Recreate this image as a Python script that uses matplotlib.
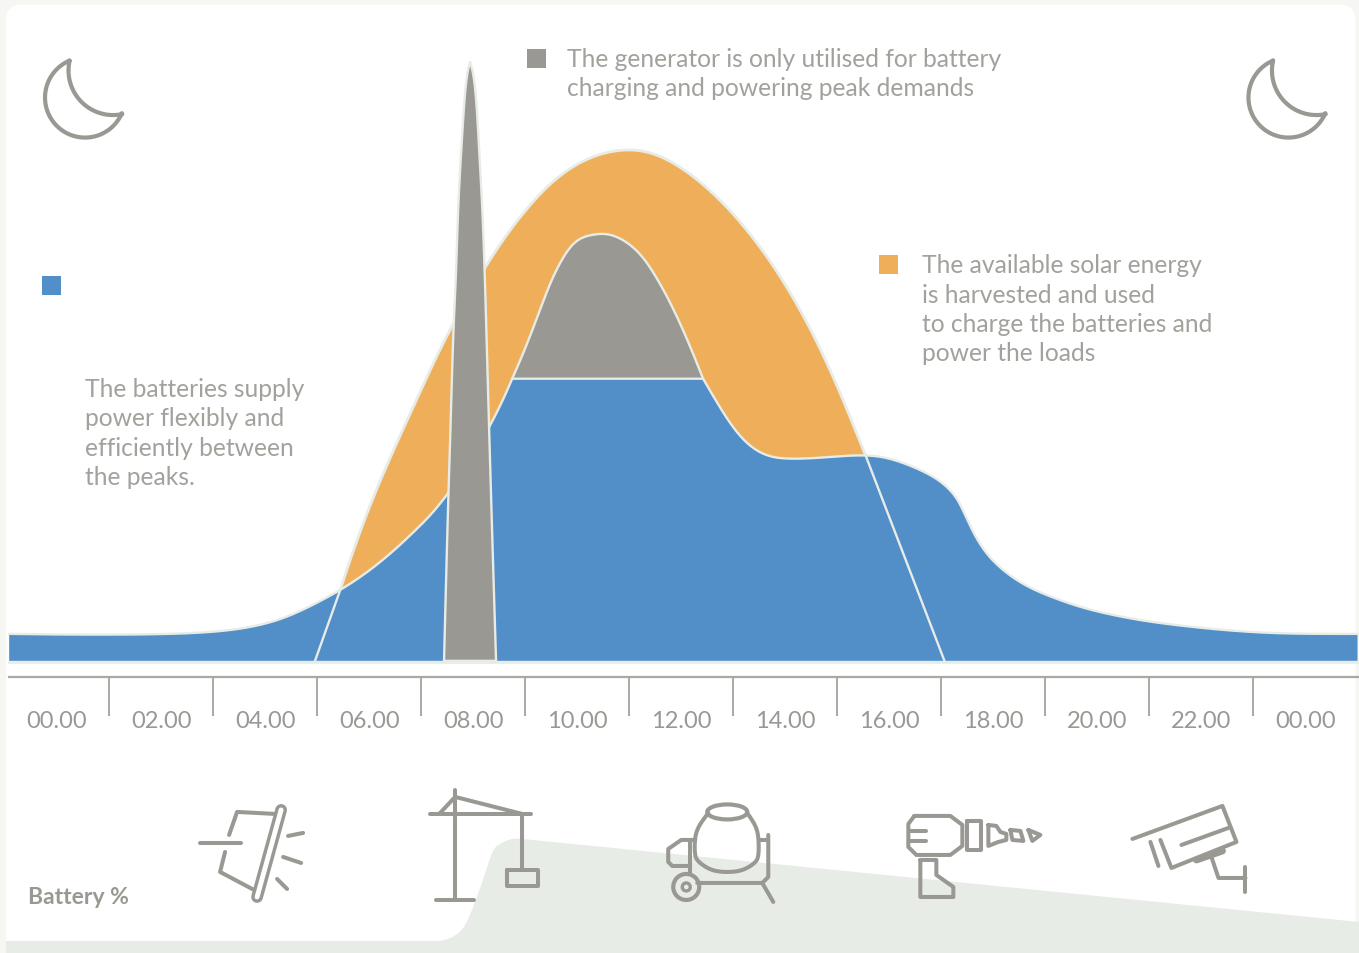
import numpy as np
import matplotlib
matplotlib.use('Agg')
import matplotlib.pyplot as plt
from matplotlib.patches import FancyBboxPatch, Polygon, Rectangle, Circle, Ellipse

W, H = 1359, 953

# values: hours of the day and battery %
batt_rise_h = [0.08, 1.83, 3.37, 4.33, 5.10, 5.67, 6.44, 6.96, 7.60, 8.08, 8.52, 9.33, 9.75]
batt_rise_v = [4.5, 4.3, 4.5, 5.0, 6.3, 8.2, 11.7, 14.7, 19.2, 23.5, 27.5, 38.7, 47.0]
batt_fall_h = [13.42, 13.69, 14.00, 14.33, 14.65, 14.96, 15.42, 15.92, 16.54, 17.02, 17.46, 17.85, 18.17,
               18.37, 18.56, 18.81, 19.13, 19.58, 20.10, 20.73, 21.38, 22.02, 22.98, 23.94, 24.90, 26.0]
batt_fall_v = [47.0, 43.0, 38.8, 35.7, 34.2, 33.7, 33.7, 34.0, 34.3, 33.7, 32.3, 30.7, 28.5,
               26.0, 22.3, 18.5, 15.5, 12.7, 10.7, 8.8, 7.5, 6.5, 5.5, 4.8, 4.5, 4.5]

solar_h = [6.44, 6.63, 6.88, 7.21, 7.60, 8.17, 8.62, 9.23, 9.58, 10.10, 10.62, 11.12, 11.58, 12.02,
           12.46, 12.92, 13.37, 13.81, 14.27, 14.65, 15.04, 15.42, 15.81, 16.19, 16.54]
solar_v = [11.7, 16.8, 22.8, 30.2, 37.5, 48.5, 56.5, 65.7, 70.2, 76.3, 80.7, 83.5, 84.8, 85.3,
           84.7, 82.7, 79.8, 76.3, 71.8, 67.3, 62.3, 56.3, 49.7, 41.8, 34.3]

dome_h = [9.75, 10.10, 10.42, 10.67, 10.92, 11.19, 11.48, 11.77, 12.15, 12.46, 12.79, 13.12, 13.42]
dome_v = [47.0, 54.0, 61.8, 66.3, 69.7, 70.8, 71.2, 70.7, 68.5, 64.8, 59.7, 53.5, 47.0]

gen_left_h = [8.44, 8.52, 8.56, 8.62, 8.67, 8.71, 8.79, 8.85, 8.94]
gen_left_v = [0, 27.3, 36.8, 56.5, 63.0, 76.8, 87.0, 96.5, 99.7]
gen_right_h = [8.94, 9.04, 9.10, 9.17, 9.23, 9.31, 9.44]
gen_right_v = [99.7, 96.5, 87.0, 76.8, 63.0, 36.8, 0]

solar_in_h = [5.96, 6.44]
solar_in_v = [0, 11.7]
solar_out_h = [16.54, 18.06]
solar_out_v = [34.3, 0]

tick_hours = list(range(2, 26, 2))
label_hours = list(range(1, 27, 2))
tick_labels = ['00.00', '02.00', '04.00', '06.00', '08.00', '10.00', '12.00', '14.00',
               '16.00', '18.00', '20.00', '22.00', '00.00']

BLUE = '#528FC9'
ORANGE = '#EFAF5A'
GREY = '#9A9893'
EDGE = '#E8ECE6'
PAGE = '#F6F7F2'
FONT = 'Lato'


def smooth(x, y, n=16, soften=0):
    # catmull-rom through the read points, only so the outline is not jagged
    p = np.column_stack([x, y])
    p = np.vstack([p[0], p, p[-1]])
    out = []
    for i in range(1, len(p) - 2):
        t = np.linspace(0, 1, n, endpoint=False)[:, None]
        out.append(0.5 * (2 * p[i] + (p[i + 1] - p[i - 1]) * t
                          + (2 * p[i - 1] - 5 * p[i] + 4 * p[i + 1] - p[i + 2]) * t ** 2
                          + (3 * p[i] - p[i - 1] - 3 * p[i + 1] + p[i + 2]) * t ** 3))
    out.append(p[-2:-1])
    c = np.vstack(out)
    if soften:
        # moving average to take out the reading noise, ends stay where they are
        k = soften
        pad = np.vstack([2 * c[0] - c[k:0:-1], c, 2 * c[-1] - c[-2:-k - 2:-1]])
        kernel = np.ones(2 * k + 1) / (2 * k + 1)
        c = np.column_stack([np.convolve(pad[:, j], kernel, mode='valid') for j in range(2)])
    return c


fig = plt.figure(figsize=((W + 0.5) / 100, (H + 0.5) / 100), dpi=100, facecolor=PAGE)

# pixel layer for the card, the ground and the icons
bg = fig.add_axes([0, 0, 1, 1], zorder=0)
bg.set_xlim(0, W)
bg.set_ylim(H, 0)
bg.axis('off')
bg.add_patch(FancyBboxPatch((6 + 16, 5 + 16), 1349 - 32, 980, boxstyle='round,pad=16,rounding_size=16',
                            fc='white', ec='none'))
ground_top = smooth([440, 454, 466, 480, 492, 500, 512, 522], [941, 936, 923, 888, 853, 844, 839, 839], 8)
ground = np.vstack([[[6, 953], [6, 941]], ground_top, [[1359, 922], [1359, 953]]])
bg.add_patch(Polygon(ground, closed=True, fc=EDGE, ec='none'))

# chart layer, hours on x and battery % on y
ax = fig.add_axes([0, 0, 1, 1], zorder=1)
ax.set_xlim(-5 / 52, (W - 5) / 52)
ax.set_ylim((661 - H) / 6, 661 / 6)
ax.axis('off')
ax.patch.set_alpha(0)

rise = smooth(batt_rise_h, batt_rise_v, soften=14)
fall = smooth(batt_fall_h, batt_fall_v, soften=10)
blue_top = np.vstack([rise, fall])
blue = np.vstack([[[batt_rise_h[0], 0]], blue_top, [[batt_fall_h[-1], 0]]])
solar = smooth(solar_h, solar_v, soften=16)
dome = smooth(dome_h, dome_v, soften=12)
gen = np.vstack([smooth(gen_left_h, gen_left_v, soften=12), smooth(gen_right_h, gen_right_v, soften=12)])

ax.add_patch(Polygon(solar, closed=True, fc=ORANGE, ec='none', zorder=2))
ax.plot(solar[:, 0], solar[:, 1], color=EDGE, lw=2.0, zorder=3)
ax.add_patch(Polygon(blue, closed=True, fc=BLUE, ec='none', zorder=4))
ax.add_patch(Polygon(dome, closed=True, fc=GREY, ec='none', zorder=4))
ax.plot(blue_top[:, 0], blue_top[:, 1], color=EDGE, lw=1.7, zorder=5)
ax.plot(dome[:, 0], dome[:, 1], color=EDGE, lw=1.7, zorder=5)
ax.plot(solar_in_h, solar_in_v, color=EDGE, lw=1.7, zorder=5)
ax.plot(solar_out_h, solar_out_v, color=EDGE, lw=1.7, zorder=5)
ax.add_patch(Polygon(gen, closed=True, fc=GREY, ec=EDGE, lw=1.7, zorder=6))
ax.plot([batt_rise_h[0], batt_fall_h[-1]], [-0.2, -0.2], color=EDGE, lw=2, zorder=7)

# time scale
tax = fig.add_axes([5 / W, 1 - 677 / H, (W - 5) / W, 0.001], zorder=2)
tax.set_xlim(0, (W - 5) / 52)
tax.patch.set_alpha(0)
tax.set_yticks([])
for s in ['top', 'left', 'right']:
    tax.spines[s].set_visible(False)
tax.spines['bottom'].set_color('#A9A8A3')
tax.spines['bottom'].set_linewidth(1.6)
tax.spines['bottom'].set_bounds(4 / 52, (W - 5) / 52)
tax.set_xticks(tick_hours)
tax.set_xticklabels([])
tax.tick_params(axis='x', which='major', length=28, width=1.4, color='#A9A8A3')
tax.set_xticks(label_hours, minor=True)
tax.set_xticklabels(tick_labels, minor=True, fontsize=17.0, color=GREY, family=FONT)
tax.tick_params(axis='x', which='minor', length=0, pad=24)

# text and legend squares
notes = [(567, [59, 88], ['The generator is only utilised for battery', 'charging and powering peak demands']),
         (922, [265, 295, 324, 353], ['The available solar energy', 'is harvested and used',
                                      'to charge the batteries and', 'power the loads']),
         (85, [389, 418, 448, 477], ['The batteries supply', 'power flexibly and',
                                     'efficiently between', 'the peaks.'])]
for x, ys, lines in notes:
    for y, line in zip(ys, lines):
        bg.text(x, y, line, fontsize=17.75, color='#A3A19C', family=FONT, va='center', ha='left')
bg.text(28, 897, 'Battery %', fontsize=16.5, color=GREY, family=FONT, weight='bold', va='center', ha='left')
bg.add_patch(Rectangle((42, 276), 19, 19, fc=BLUE, ec='none'))
bg.add_patch(Rectangle((527, 49), 19, 19, fc=GREY, ec='none'))
bg.add_patch(Rectangle((879, 255), 19, 19, fc=ORANGE, ec='none'))


def stroke(pts, closed=False, lw=2.9, color=GREY):
    pts = np.array(pts, dtype=float)
    if closed:
        pts = np.vstack([pts, pts[:1]])
    bg.plot(pts[:, 0], pts[:, 1], color=color, lw=lw, solid_capstyle='round',
            solid_joinstyle='round', zorder=8)


# moons
for dx in [0, 1203]:
    a1 = np.radians(np.linspace(247, 23, 60))
    a2 = np.radians(np.linspace(78, 193, 40))
    outer = np.column_stack([85 + dx + 40 * np.cos(a1), 98 + 40 * np.sin(a1)])
    inner = np.column_stack([113 + dx + 44.5 * np.cos(a2), 71 + 44.5 * np.sin(a2)])
    stroke(np.vstack([outer, inner]), closed=True, lw=3.0)

# floodlight
stroke([(281, 810), (257, 897)], lw=8.5)
stroke([(281, 810), (257, 897)], lw=3.5, color='white')
stroke([(229, 835), (237, 812), (275, 814)])
stroke([(200, 843), (241, 843)])
stroke([(225, 852), (220, 872), (254, 890)])
stroke([(288, 836), (303, 833)])
stroke([(283, 857), (301, 863)])
stroke([(277, 879), (287, 889)])

# crane
stroke([(455, 790), (455, 900)])
stroke([(436, 900), (474, 900)])
stroke([(430, 814), (531, 814)])
stroke([(439, 814), (455, 797), (522, 814)])
stroke([(522, 814), (522, 870)])
stroke([(507, 870), (538, 870), (538, 886), (507, 886)], closed=True)

# mixer
bg.add_patch(Ellipse((727, 812), 40, 15, fc='none', ec=GREY, lw=3.0, zorder=8))
stroke(smooth([708, 699, 695, 695, 700, 712, 727, 742, 754, 758, 758, 755, 747],
              [813, 826, 838, 855, 863, 870, 872, 870, 863, 855, 838, 826, 813], 6))
stroke([(760, 840), (768, 840)])
stroke([(768, 835), (768, 877), (762, 883), (697, 883)])
stroke([(762, 883), (773, 902)])
stroke([(695, 840), (681, 840), (668, 849), (668, 862), (672, 866), (690, 866)])
stroke([(690, 840), (690, 874)])
bg.add_patch(Circle((686, 887), 13, fc='none', ec=GREY, lw=3.0, zorder=8))
bg.add_patch(Circle((686, 887), 4, fc='none', ec=GREY, lw=2.4, zorder=8))

# drill
stroke([(914, 816), (950, 816), (962, 825), (962, 846), (950, 855), (916, 855), (908, 847), (908, 824)], closed=True)
stroke([(910, 831), (926, 831)])
stroke([(910, 841), (926, 841)])
stroke([(967, 821), (981, 821), (981, 850), (967, 850)], closed=True)
stroke([(988, 825), (996, 826), (1000, 832), (1006, 834), (1006, 840), (998, 842), (988, 846)], closed=True)
stroke([(1010, 830), (1020, 831), (1023, 841), (1012, 840)], closed=True)
stroke([(1028, 830), (1040, 835), (1032, 841)], closed=True)
stroke([(920, 860), (936, 860), (936, 875), (953, 887), (953, 897), (920, 897)], closed=True)

# camera
stroke([(1132, 839), (1222, 806), (1236, 842), (1171, 868), (1160, 840)])
stroke([(1150, 842), (1158, 866)])
stroke([(1181, 845), (1228, 828)])
stroke([(1196, 860), (1222, 851)], lw=5)
stroke([(1211, 857), (1218, 878), (1245, 878)])
stroke([(1245, 867), (1245, 892)])

fig.savefig('out.png', dpi=100, facecolor=PAGE)
